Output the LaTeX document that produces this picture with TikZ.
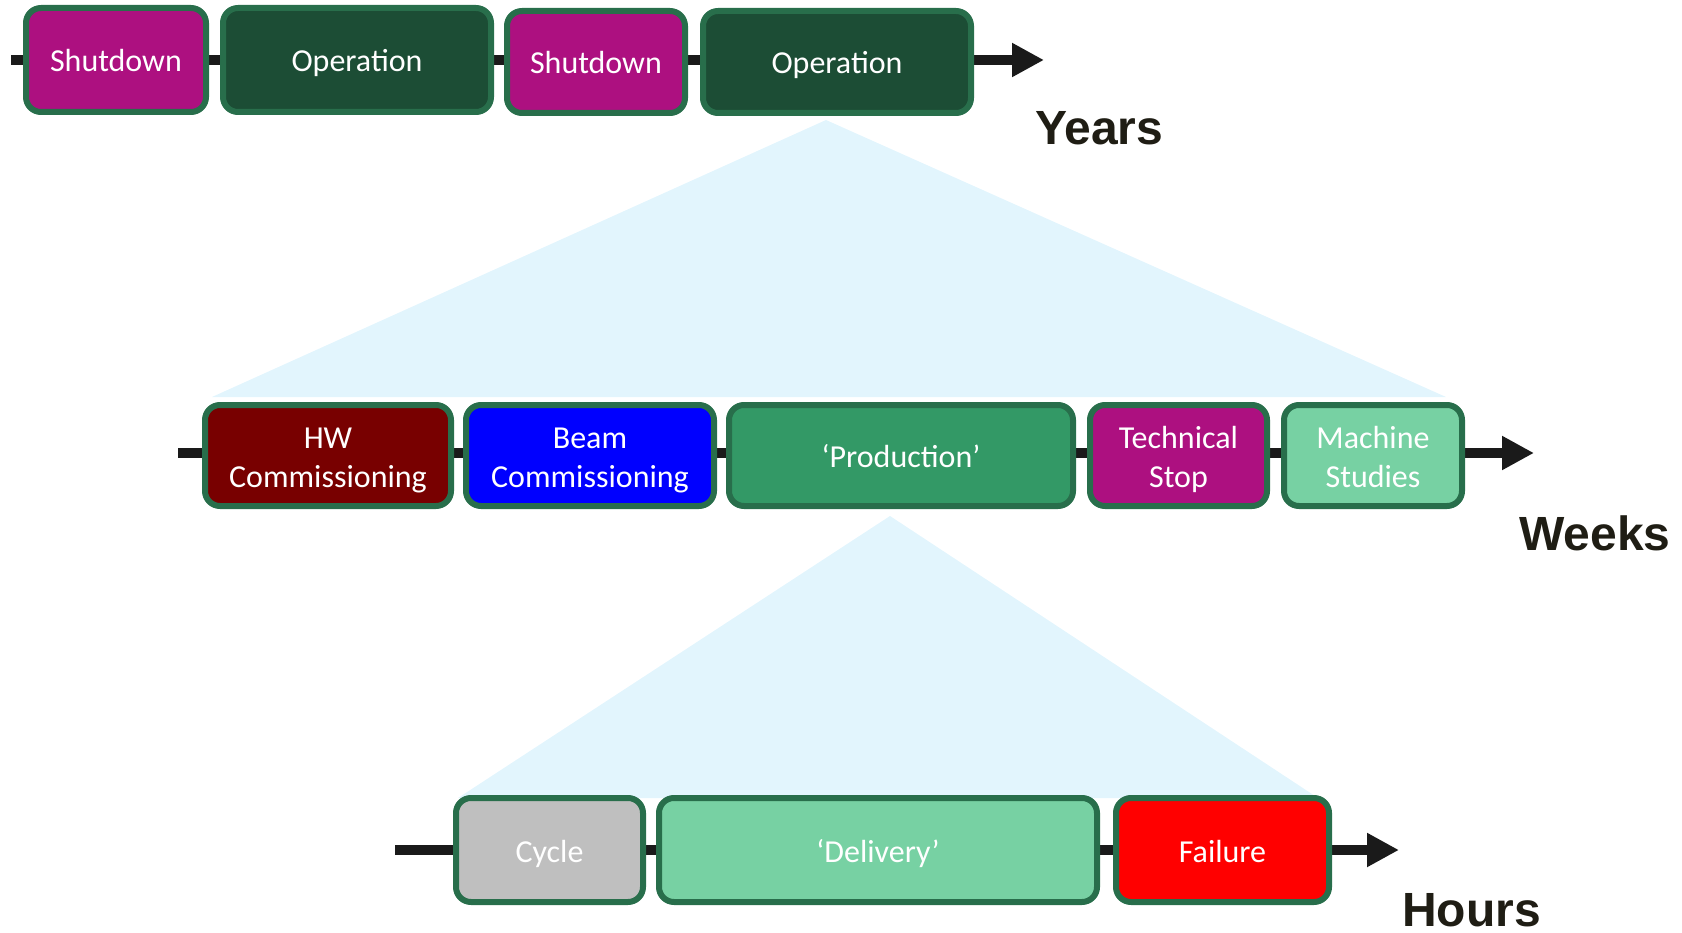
\documentclass[tikz,border=0pt]{standalone}
\usepackage{fontspec}
\setmainfont{Carlito}
\newfontfamily\scalefont{Liberation Sans}
\usetikzlibrary{arrows.meta}

\definecolor{rim}{HTML}{286E4B}
\definecolor{shutc}{HTML}{AD1080}
\definecolor{operc}{HTML}{1C4D35}
\definecolor{hwc}{HTML}{780000}
\definecolor{beamc}{HTML}{0000FF}
\definecolor{prodc}{HTML}{339966}
\definecolor{mintc}{HTML}{77D1A3}
\definecolor{cyclec}{HTML}{BFBFBF}
\definecolor{failc}{HTML}{FF0000}
\definecolor{zoomc}{HTML}{E2F5FD}
\definecolor{axisc}{HTML}{1A1A1A}
\definecolor{labc}{HTML}{1F1D14}

\tikzset{
  phase/.style={draw=rim, line width=6pt, rounded corners=15pt, inner sep=0pt},
  ptext/.style={text=white, align=center, inner sep=0pt,
    font=\fontsize{32}{39}\selectfont},
  oneline/.style={ptext, text height=26pt, text depth=2pt},
  twoline/.style={ptext, yshift=-5pt},
  axis/.style={draw=axisc, line width=10pt,
    -{Triangle[length=32pt,width=32pt]}},
  zoomfan/.style={fill=zoomc, draw=none},
  scalelabel/.style={anchor=base west, text=labc, inner sep=0pt,
    font=\scalefont\bfseries\fontsize{48}{48}\selectfont}
}

\begin{document}
\begin{tikzpicture}[x=1pt, y=-1pt]
\useasboundingbox (0,0) rectangle (1682,933);

% zoom fans behind the rows
\fill[zoomfan] (826,120) -- (1446,397) -- (212,397) -- cycle;
\fill[zoomfan] (890,516) -- (1318,798) -- (458,798) -- cycle;

% time axes
\coordinate (ya) at (11,60);   \coordinate (yb) at (1044,60);
\coordinate (wa) at (178,453); \coordinate (wb) at (1534,453);
\coordinate (ha) at (395,850); \coordinate (hb) at (1399,850);
\draw[axis] (ya) -- (yb);
\draw[axis] (wa) -- (wb);
\draw[axis] (ha) -- (hb);

% years
\node[phase, fill=shutc, minimum width=180pt, minimum height=104pt,
  label={[oneline]center:Shutdown}] (sd1) at (116,60) {};
\node[phase, fill=operc, minimum width=268pt, minimum height=104pt,
  label={[oneline]center:Operation}] (op1) at (357,60) {};
\node[phase, fill=shutc, minimum width=178pt, minimum height=102pt,
  label={[oneline]center:Shutdown}] (sd2) at (596,62) {};
\node[phase, fill=operc, minimum width=268pt, minimum height=102pt,
  label={[oneline]center:Operation}] (op2) at (837,62) {};

% weeks
\node[phase, fill=hwc,   minimum width=246pt, minimum height=101pt,
  label={[twoline]center:{HW\\Commissioning}}] (hw) at (328,455.5) {};
\node[phase, fill=beamc, minimum width=248pt, minimum height=101pt,
  label={[twoline]center:{Beam\\Commissioning}}] (beam) at (590,455.5) {};
\node[phase, fill=prodc, minimum width=344pt, minimum height=101pt,
  label={[oneline]center:‘Production’}] (prod) at (901,455.5) {};
\node[phase, fill=shutc, minimum width=177pt, minimum height=101pt,
  label={[twoline, yshift=1pt]center:{Technical\\Stop}}] (tech) at (1178.5,455.5) {};
\node[phase, fill=mintc, minimum width=178pt, minimum height=101pt,
  label={[twoline, yshift=3pt]center:{Machine\\Studies}}] (mach) at (1373,455.5) {};

% hours
\node[phase, fill=cyclec, minimum width=187pt, minimum height=104pt,
  label={[oneline]center:Cycle}] (cyc) at (549.5,850) {};
\node[phase, fill=mintc,  minimum width=438pt, minimum height=104pt,
  label={[oneline]center:‘Delivery’}] (del) at (878,850) {};
\node[phase, fill=failc,  minimum width=213pt, minimum height=104pt,
  label={[oneline]center:Failure}] (fail) at (1222.5,850) {};

% scale labels
\node[scalelabel] (years) at (1035,145) {Years};
\node[scalelabel] (weeks) at (1519,550) {Weeks};
\node[scalelabel] (hours) at (1402,926) {Hours};
\end{tikzpicture}
\end{document}
